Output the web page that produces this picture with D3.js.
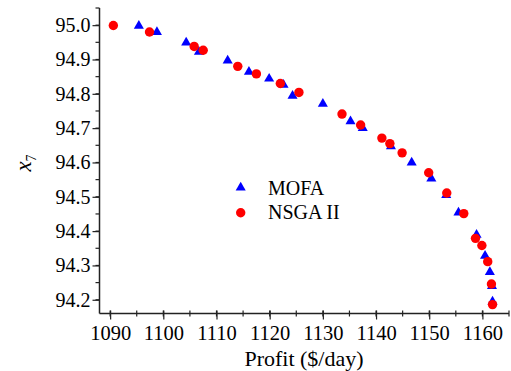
<!DOCTYPE html>
<html>
<head>
<meta charset="utf-8">
<script src="https://cdn.jsdelivr.net/npm/d3@7"></script>
<style>
  html, body { margin: 0; padding: 0; background: #fff; }
  svg { display: block; }
  svg text { font-family: "Liberation Serif", "Times New Roman", Times, "DejaVu Serif", serif !important; fill: #000; }
</style>
</head>
<body>
<svg id="chart" width="511" height="371"></svg>
<script>
// ---- data ----
const mofaProfit = [1095.4, 1098.8, 1104.3, 1106.7, 1112.1, 1116.1, 1119.9, 1122.6, 1124.3, 1130.0, 1135.2,
  1137.5, 1142.8, 1146.7, 1150.4, 1153.2, 1155.5, 1158.9, 1160.5, 1161.4, 1161.8, 1161.9];
const mofaX7 = [94.998, 94.980, 94.949, 94.922, 94.897, 94.864, 94.844, 94.826, 94.794, 94.771, 94.720,
  94.700, 94.647, 94.600, 94.553, 94.505, 94.454, 94.389, 94.328, 94.281, 94.240, 94.195];
const nsgaProfit = [1090.6, 1097.4, 1105.8, 1107.5, 1114.0, 1117.5, 1122.0, 1125.5, 1133.6, 1137.1, 1141.1,
  1142.6, 1144.9, 1149.9, 1153.3, 1156.5, 1158.7, 1159.9, 1161.0, 1161.7, 1161.9];
const nsgaX7 = [94.999, 94.980, 94.938, 94.927, 94.880, 94.858, 94.830, 94.804, 94.741, 94.709, 94.671,
  94.655, 94.628, 94.570, 94.511, 94.451, 94.379, 94.358, 94.311, 94.246, 94.186];
const xTicks = [1090, 1100, 1110, 1120, 1130, 1140, 1150, 1160];
const yTicks = [94.2, 94.3, 94.4, 94.5, 94.6, 94.7, 94.8, 94.9, 95.0];
const seriesNames = ["MOFA", "NSGA II"];

// ---- layout ----
const FONT = '"Liberation Serif", "Times New Roman", Times, "DejaVu Serif", serif';
const svg = d3.select("#chart");
const x = d3.scaleLinear().domain([1088, 1165]).range([99.5, 509]);
const y = d3.scaleLinear().domain([94.16, 95.05]).range([313.5, 8]);
const x0 = x.range()[0], y0 = y.range()[0];

const xMinor = d3.range(1090, 1165.1, 5);
const yMinor = d3.range(94.2, 95.051, 0.05).map(v => +v.toFixed(2));

const axisColor = "#222";
const g = svg.append("g");

// minor ticks
g.selectAll(".xm").data(xMinor).enter().append("line")
  .attr("x1", d => x(d)).attr("x2", d => x(d))
  .attr("y1", y0 - 3).attr("y2", y0 + 3)
  .attr("stroke", axisColor).attr("stroke-width", 1.2);
g.selectAll(".ym").data(yMinor).enter().append("line")
  .attr("x1", x0 - 4).attr("x2", x0)
  .attr("y1", d => y(d)).attr("y2", d => y(d))
  .attr("stroke", axisColor).attr("stroke-width", 1.2);

// axes with d3 axis generators
const xAxis = d3.axisBottom(x).tickValues(xTicks).tickFormat(d3.format("d")).tickSize(6).tickPadding(6);
const yAxis = d3.axisLeft(y).tickValues(yTicks).tickFormat(d3.format(".1f")).tickSize(7).tickPadding(2);

const gx = svg.append("g").attr("transform", `translate(0,${y0})`).call(xAxis);
const gy = svg.append("g").attr("transform", `translate(${x0},0)`).call(yAxis);
[gx, gy].forEach(a => {
  a.attr("font-family", FONT);
  a.select(".domain").remove();
  a.selectAll(".tick line").attr("stroke", axisColor).attr("stroke-width", 1.2);
  a.selectAll(".tick text").attr("fill", "#000");
});
gx.selectAll(".tick line").attr("y1", -3);
gx.selectAll(".tick text").attr("font-size", 20.5);
gy.selectAll(".tick text").attr("font-size", 20);

// axis lines
svg.append("line").attr("x1", x0).attr("x2", x.range()[1]).attr("y1", y0).attr("y2", y0)
  .attr("stroke", axisColor).attr("stroke-width", 1.5);
svg.append("line").attr("x1", x0).attr("x2", x0).attr("y1", y.range()[1]).attr("y2", y0)
  .attr("stroke", axisColor).attr("stroke-width", 1.5);

// axis titles
svg.append("text").attr("x", 304).attr("y", 365.5).attr("text-anchor", "middle")
  .attr("font-family", FONT).attr("font-size", 22).text("Profit ($/day)");
const yt = svg.append("text").attr("transform", "translate(31,163) rotate(-90)")
  .attr("text-anchor", "middle").attr("font-family", FONT).attr("font-size", 23);
yt.append("tspan").attr("font-style", "italic").text("x");
yt.append("tspan").attr("dy", 5).attr("font-size", 14).text("7");

// marks
const tri = d3.symbol().type(d3.symbolTriangle).size(44);
const mofa = mofaProfit.map((p, i) => ({p, v: mofaX7[i]}));
const nsga = nsgaProfit.map((p, i) => ({p, v: nsgaX7[i]}));

svg.append("g").selectAll("path").data(mofa).enter().append("path")
  .attr("d", tri).attr("fill", "#0000ff")
  .attr("transform", d => `translate(${x(d.p)},${y(d.v)})`);
svg.append("g").selectAll("circle").data(nsga).enter().append("circle")
  .attr("cx", d => x(d.p)).attr("cy", d => y(d.v)).attr("r", 4.7).attr("fill", "#ff0000");

// legend
const lg = svg.append("g");
lg.append("path").attr("d", tri).attr("fill", "#0000ff").attr("transform", "translate(240.7,187.5)");
lg.append("circle").attr("cx", 240.7).attr("cy", 212.7).attr("r", 4.7).attr("fill", "#ff0000");
lg.append("text").attr("x", 268).attr("y", 195).attr("font-family", FONT).attr("font-size", 20).text(seriesNames[0]);
lg.append("text").attr("x", 268).attr("y", 219).attr("font-family", FONT).attr("font-size", 20).text(seriesNames[1]);
</script>
</body>
</html>
